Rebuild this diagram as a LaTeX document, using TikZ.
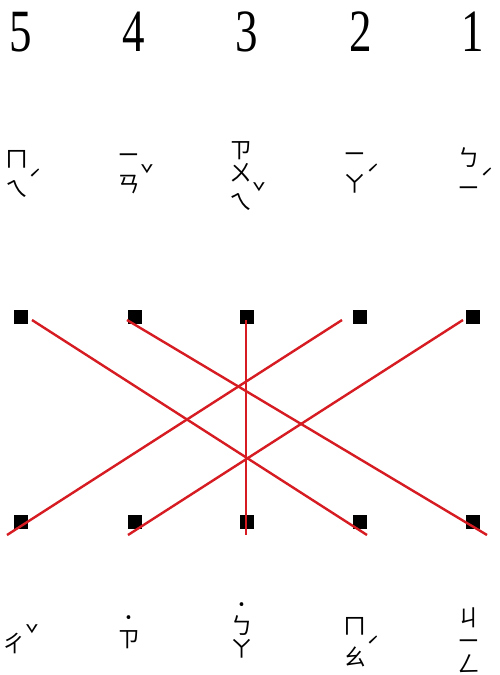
\documentclass[tikz,border=0pt]{standalone}
\usepackage{fontspec}
\setmainfont{Liberation Serif}
\newfontfamily\zhuyin{Noto Sans CJK TC}
\definecolor{linkred}{RGB}{214,28,34}
\newcommand\tn[1]{\rlap{\raisebox{0.4em}{#1}}}
\newcommand\qs{{\fontsize{18}{18}\selectfont\bfseries ˙}}
\tikzset{
 num/.style={font=\fontsize{60}{64}\selectfont, inner sep=0},
 zy/.style={font=\zhuyin\fontsize{23}{23}\selectfont, align=center, inner sep=0},
 sq/.style={fill=black, minimum size=14pt, inner sep=0},
 link/.style={draw=linkred, line width=2.4pt}
}
\begin{document}
\begin{tikzpicture}[x=1pt,y=-1pt]
\useasboundingbox[fill=white] (0,0) rectangle (500,675);
% numbers
\node[num] (n5) at (21,32) {\scalebox{0.75}[1]{5}};
\node[num] (n4) at (134,32) {\scalebox{0.75}[1]{4}};
\node[num] (n3) at (247,32) {\scalebox{0.75}[1]{3}};
\node[num] (n2) at (361,32) {\scalebox{0.75}[1]{2}};
\node[num] (n1) at (473,32) {\scalebox{0.75}[1]{1}};
% top zhuyin
\node[zy] (z5) at (17,174) {ㄇ\\ㄟ\tn{ˊ}};
\node[zy] (z4) at (129,174) {ㄧ\\ㄢ\tn{ˇ}};
\node[zy] (z3) at (241,176) {ㄗ\\ㄨ\\ㄟ\tn{ˇ}};
\node[zy] (z2) at (355,173) {ㄧ\\ㄚ\tn{ˊ}};
\node[zy] (z1) at (469,172) {ㄅ\\ㄧ\tn{ˊ}};
% bottom zhuyin
\node[zy] (w5) at (14,639) {ㄔ\tn{ˇ}};
\node[zy] (w4) at (129,632) {\qs\\ㄗ};
\node[zy] (w3) at (242,630) {\qs\\ㄅ\\ㄚ};
\node[zy] (w2) at (355,642) {ㄇ\\ㄠ\tn{ˊ}};
\node[zy] (w1) at (469,640) {ㄐ\\ㄧ\\ㄥ};
% squares
\node[sq] (t5) at (21,317) {};
\node[sq] (t4) at (135,317) {};
\node[sq] (t3) at (247,317) {};
\node[sq] (t2) at (360,317) {};
\node[sq] (t1) at (473,317) {};
\node[sq] (b5) at (21,522) {};
\node[sq] (b4) at (135,522) {};
\node[sq] (b3) at (247,522) {};
\node[sq] (b2) at (360,522) {};
\node[sq] (b1) at (473,522) {};
% line ends
\coordinate (s5) at (32,320);
\coordinate (s4) at (127,320);
\coordinate (s3) at (246,320);
\coordinate (s2) at (342,320);
\coordinate (s1) at (463,320);
\coordinate (e2) at (367,535);
\coordinate (e1) at (487,535);
\coordinate (e3) at (246,535);
\coordinate (e4) at (128,535);
\coordinate (e5) at (7,535);
\draw[link] (s5) -- (e2);
\draw[link] (s4) -- (e1);
\draw[link] (s3) -- (e3);
\draw[link] (s2) -- (e5);
\draw[link] (s1) -- (e4);
\end{tikzpicture}
\end{document}
